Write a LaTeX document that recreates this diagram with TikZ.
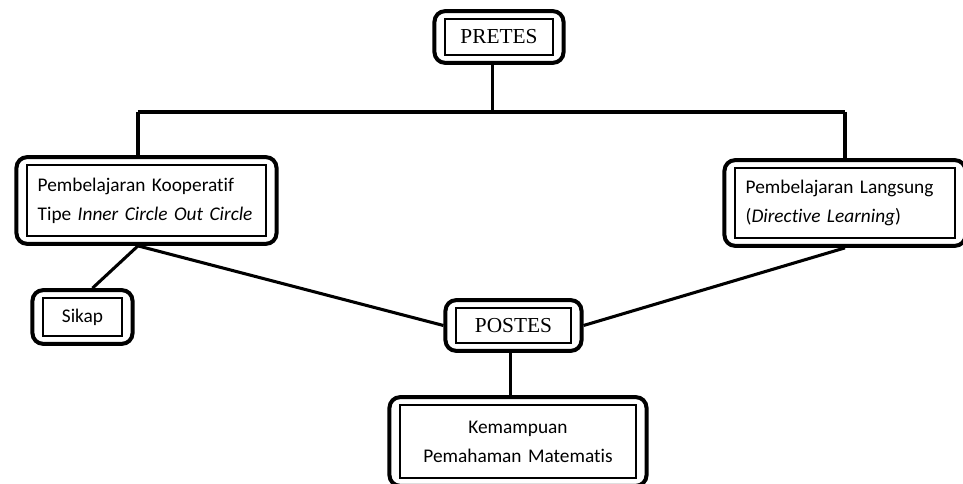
\documentclass[tikz,border=0pt]{standalone}
\usepackage{fontspec}
\setmainfont{Carlito}[Ligatures=NoCommon]
\newfontfamily\serifbox{Liberation Serif}
\usetikzlibrary{fit,positioning}

\begin{document}
\begin{tikzpicture}[x=0.75pt, y=-0.75pt]
    \tikzstyle{inbox}=[rectangle, draw=black, line width=0.8pt, inner xsep=8pt, inner ysep=0pt, align=left, font=\fontsize{14.5}{21.75}\selectfont]
    \tikzstyle{serifinbox}=[inbox, align=center, font=\serifbox\fontsize{16}{20}\selectfont]
    \tikzstyle{outbox}=[rectangle, rounded corners=8pt, draw=black, line width=3pt, inner xsep=7.5pt, inner ysep=5.5pt]
    \tikzstyle{connect}=[line width=2.3pt]

      \useasboundingbox (0,0) rectangle (963,484);

      \node[serifinbox, minimum width=81pt, minimum height=27pt] (pretes) at (499,37) {PRETES};
      \node[inbox, text width=163.25pt, minimum height=53.25pt] (kooperatif) at (146.5,200.5) {\mbox{Pembelajaran Kooperatif}\\\mbox{Tipe \textit{Inner Circle Out Circle}}};
      \node[inbox, text width=149pt, minimum height=52.5pt] (langsung) at (845,203) {\mbox{Pembelajaran Langsung}\\(\textit{Directive Learning})};
      \node[inbox, align=center, minimum width=59.25pt, minimum height=28.5pt] (sikap) at (82.5,317) {Sikap};
      \node[serifinbox, minimum width=86.25pt, minimum height=26.25pt] (postes) at (513.5,325.5) {POSTES};
      \node[inbox, align=center, text width=161pt, minimum height=54.75pt] (kemampuan) at (518,441.5) {Kemampuan\\Pemahaman Matematis};

      \node[outbox, fit=(pretes)] (pretesbox) {};
      \node[outbox, fit=(kooperatif)] (kooperatifbox) {};
      \node[outbox, fit=(langsung)] (langsungbox) {};
      \node[outbox, fit=(sikap)] (sikapbox) {};
      \node[outbox, fit=(postes)] (postesbox) {};
      \node[outbox, fit=(kemampuan)] (kemampuanbox) {};

      \coordinate (busL) at (138,112);
      \coordinate (busR) at (845,112);

      \draw[connect] (busL) -- (busR);
      \draw[connect] ([xshift=-5pt]pretesbox.south) -- ([xshift=-5pt]pretesbox.south |- busL);
      \draw[connect] (busL) -- (busL |- kooperatifbox.north);
      \draw[connect] (busR) -- (busR |- langsungbox.north);
      \draw[connect] (busL |- kooperatifbox.south) -- ([xshift=7.5pt]sikapbox.north);
      \draw[connect] (busL |- kooperatifbox.south) -- (postesbox.west);
      \draw[connect] (busR |- langsungbox.south) -- (postesbox.east);
      \draw[connect] ([xshift=-2.5pt]postesbox.south) -- ([xshift=-2.5pt]postesbox.south |- kemampuanbox.north);
\end{tikzpicture}
\end{document}
